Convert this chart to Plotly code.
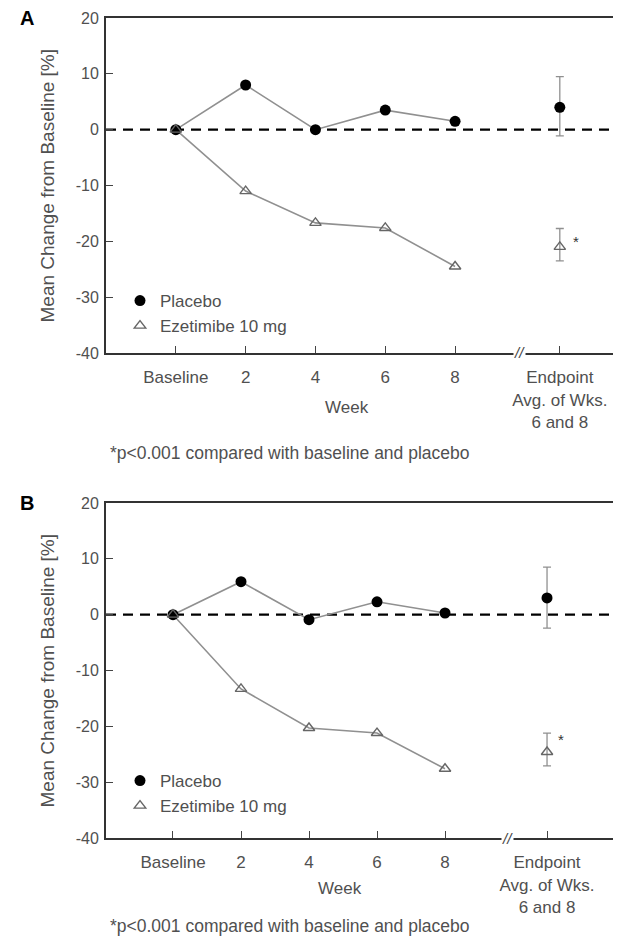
import plotly.graph_objects as go

# ---- data ----
x_pos = [0, 2, 4, 6, 8]
x_end = [11]
tick_vals = [0, 2, 4, 6, 8, 11]
tick_text = ["Baseline", "2", "4", "6", "8", "Endpoint<br>Avg. of Wks.<br>6 and 8"]
y_ticks = [-40, -30, -20, -10, 0, 10, 20]
y_tick_text = ["-40", "-30", "-20", "-10", "0", "10", "20"]

a_placebo = [0, 8.0, 0.0, 3.5, 1.5]
a_eze = [0, -11.0, -16.7, -17.6, -24.5]
a_placebo_end = [4.0]
a_placebo_end_err_plus = [5.5]
a_placebo_end_err_minus = [5.1]
a_eze_end = [-21.0]
a_eze_end_err_plus = [3.3]
a_eze_end_err_minus = [2.5]

b_placebo = [0, 5.9, -0.9, 2.3, 0.3]
b_eze = [0, -13.3, -20.3, -21.2, -27.6]
b_placebo_end = [3.0]
b_placebo_end_err_plus = [5.5]
b_placebo_end_err_minus = [5.4]
b_eze_end = [-24.6]
b_eze_end_err_plus = [3.4]
b_eze_end_err_minus = [2.5]

footnote = "*p<0.001 compared with baseline and placebo"
ytitle = "Mean Change from Baseline [%]"
legend_names = ["Placebo", "Ezetimibe 10 mg"]

W, H = 621, 937
OFF = 8  # page body margin
LINE = "#909090"
TXT = "#505050"
FONT = "Liberation Sans, Arial, sans-serif"


def px(x):
    return (x - OFF) / W


def py(y):
    return 1 - (y - OFF) / H


fig = go.Figure()


def add_panel(xa, ya, legend, plc, eze, plc_end, pe_p, pe_m, eze_end, ee_p, ee_m):
    fig.add_trace(go.Scatter(x=x_pos, y=plc, mode="lines", line=dict(color=LINE, width=1.6),
                             xaxis=xa, yaxis=ya, showlegend=False, hoverinfo="skip"))
    fig.add_trace(go.Scatter(x=x_pos, y=eze, mode="lines", line=dict(color=LINE, width=1.6),
                             xaxis=xa, yaxis=ya, showlegend=False, hoverinfo="skip"))
    fig.add_trace(go.Scatter(x=x_pos, y=plc, mode="markers", name=legend_names[0],
                             marker=dict(symbol="circle", size=11, color="black"),
                             xaxis=xa, yaxis=ya, legend=legend))
    fig.add_trace(go.Scatter(x=x_pos, y=eze, mode="markers", name=legend_names[1],
                             marker=dict(symbol="triangle-up-open", size=10, color="#666666",
                                         line=dict(width=1.4)),
                             xaxis=xa, yaxis=ya, legend=legend))
    fig.add_trace(go.Scatter(x=x_end, y=plc_end, mode="markers",
                             marker=dict(symbol="circle", size=11, color="black"),
                             error_y=dict(type="data", symmetric=False, array=pe_p, arrayminus=pe_m,
                                          color=LINE, thickness=1.3, width=4),
                             xaxis=xa, yaxis=ya, showlegend=False))
    fig.add_trace(go.Scatter(x=x_end, y=eze_end, mode="markers",
                             marker=dict(symbol="triangle-up-open", size=10, color="#666666",
                                         line=dict(width=1.4)),
                             error_y=dict(type="data", symmetric=False, array=ee_p, arrayminus=ee_m,
                                          color=LINE, thickness=1.3, width=4),
                             xaxis=xa, yaxis=ya, showlegend=False))


add_panel("x", "y", "legend", a_placebo, a_eze, a_placebo_end, a_placebo_end_err_plus,
          a_placebo_end_err_minus, a_eze_end, a_eze_end_err_plus, a_eze_end_err_minus)
add_panel("x2", "y2", "legend2", b_placebo, b_eze, b_placebo_end, b_placebo_end_err_plus,
          b_placebo_end_err_minus, b_eze_end, b_eze_end_err_plus, b_eze_end_err_minus)

xcommon = dict(tickmode="array", tickvals=tick_vals, ticktext=tick_text, ticks="inside",
               ticklen=7, tickwidth=1.2, tickcolor="#444", showline=True, linecolor="#333",
               linewidth=2, mirror=True, showgrid=False, zeroline=False, automargin=False,
               tickfont=dict(family=FONT, size=17, color=TXT), ticklabelstandoff=8)
ycommon = dict(range=[-40, 20], tickmode="array", tickvals=y_ticks, ticktext=y_tick_text,
               ticks="inside", ticklen=7, tickwidth=1.2, tickcolor="#444", showline=True,
               linecolor="#333", linewidth=2, mirror=True, showgrid=False, zeroline=False,
               automargin=False, tickfont=dict(family=FONT, size=16, color=TXT),
               ticklabelstandoff=2)

legend_common = dict(xanchor="left", yanchor="top", bgcolor="rgba(0,0,0,0)",
                     font=dict(family=FONT, size=17, color=TXT), tracegroupgap=0, itemwidth=30)

fig.update_layout(
    template="none",
    width=W, height=H, margin=dict(l=0, r=0, t=0, b=0, pad=0),
    paper_bgcolor="white", plot_bgcolor="white",
    font=dict(family=FONT, color=TXT),
    xaxis=dict(xcommon, domain=[px(106), px(623)], range=[-2.0, 12.81], anchor="y"),
    yaxis=dict(ycommon, domain=[py(353), py(18)], anchor="x"),
    xaxis2=dict(xcommon, domain=[px(106), px(613)], range=[-1.97, 12.94], anchor="y2"),
    yaxis2=dict(ycommon, domain=[py(838), py(503)], anchor="x2"),
    legend=dict(legend_common, x=px(120), y=py(283)),
    legend2=dict(legend_common, x=px(120), y=py(763)),
    showlegend=True,
)

for xr, yr in [("x domain", "y"), ("x2 domain", "y2")]:
    fig.add_shape(type="line", xref=xr, yref=yr, x0=0, x1=1, y0=0, y1=0,
                  line=dict(color="black", width=2.2, dash="10px,7px"), layer="below")

ann = []
panels = [("x", "y", "A", 18, 353, 407, 453, 11.46, -20.1),
          ("x2", "y2", "B", 503, 838, 888, 926, 11.4, -22.4)]
for xa, ya, label, ytop, ybot, yweek, yfoot, sx, sy in panels:
    ann.append(dict(text="<b>%s</b>" % label, xref="paper", yref="paper", x=px(18), y=py(ytop),
                    xanchor="left", yanchor="middle", showarrow=False,
                    font=dict(family=FONT, size=20, color="black")))
    ann.append(dict(text=ytitle, xref="paper", yref="paper", x=px(47), y=py((ytop + ybot) / 2),
                    xanchor="center", yanchor="middle",
                    textangle=-90, showarrow=False, font=dict(family=FONT, size=19, color=TXT)))
    ann.append(dict(text="Week", xref=xa, yref="paper", x=4.9, y=py(yweek),
                    xanchor="center", yanchor="middle",
                    showarrow=False, font=dict(family=FONT, size=17, color=TXT)))
    ann.append(dict(text=footnote, xref="paper", yref="paper", x=px(108), y=py(yfoot),
                    xanchor="left", yanchor="middle", showarrow=False,
                    font=dict(family=FONT, size=17.5, color=TXT)))
    ann.append(dict(text="<i>//</i>", xref=xa, yref="paper", x=9.85, y=py(ybot),
                    xanchor="center", yanchor="middle", showarrow=False,
                    font=dict(family=FONT, size=15, color="#444"), bgcolor="white",
                    borderpad=0))
    ann.append(dict(text="*", xref=xa, yref=ya, x=sx, y=sy, showarrow=False,
                    xanchor="center", yanchor="middle",
                    font=dict(family=FONT, size=15, color="#333")))
fig.update_layout(annotations=ann)

fig.write_html("out.html")
